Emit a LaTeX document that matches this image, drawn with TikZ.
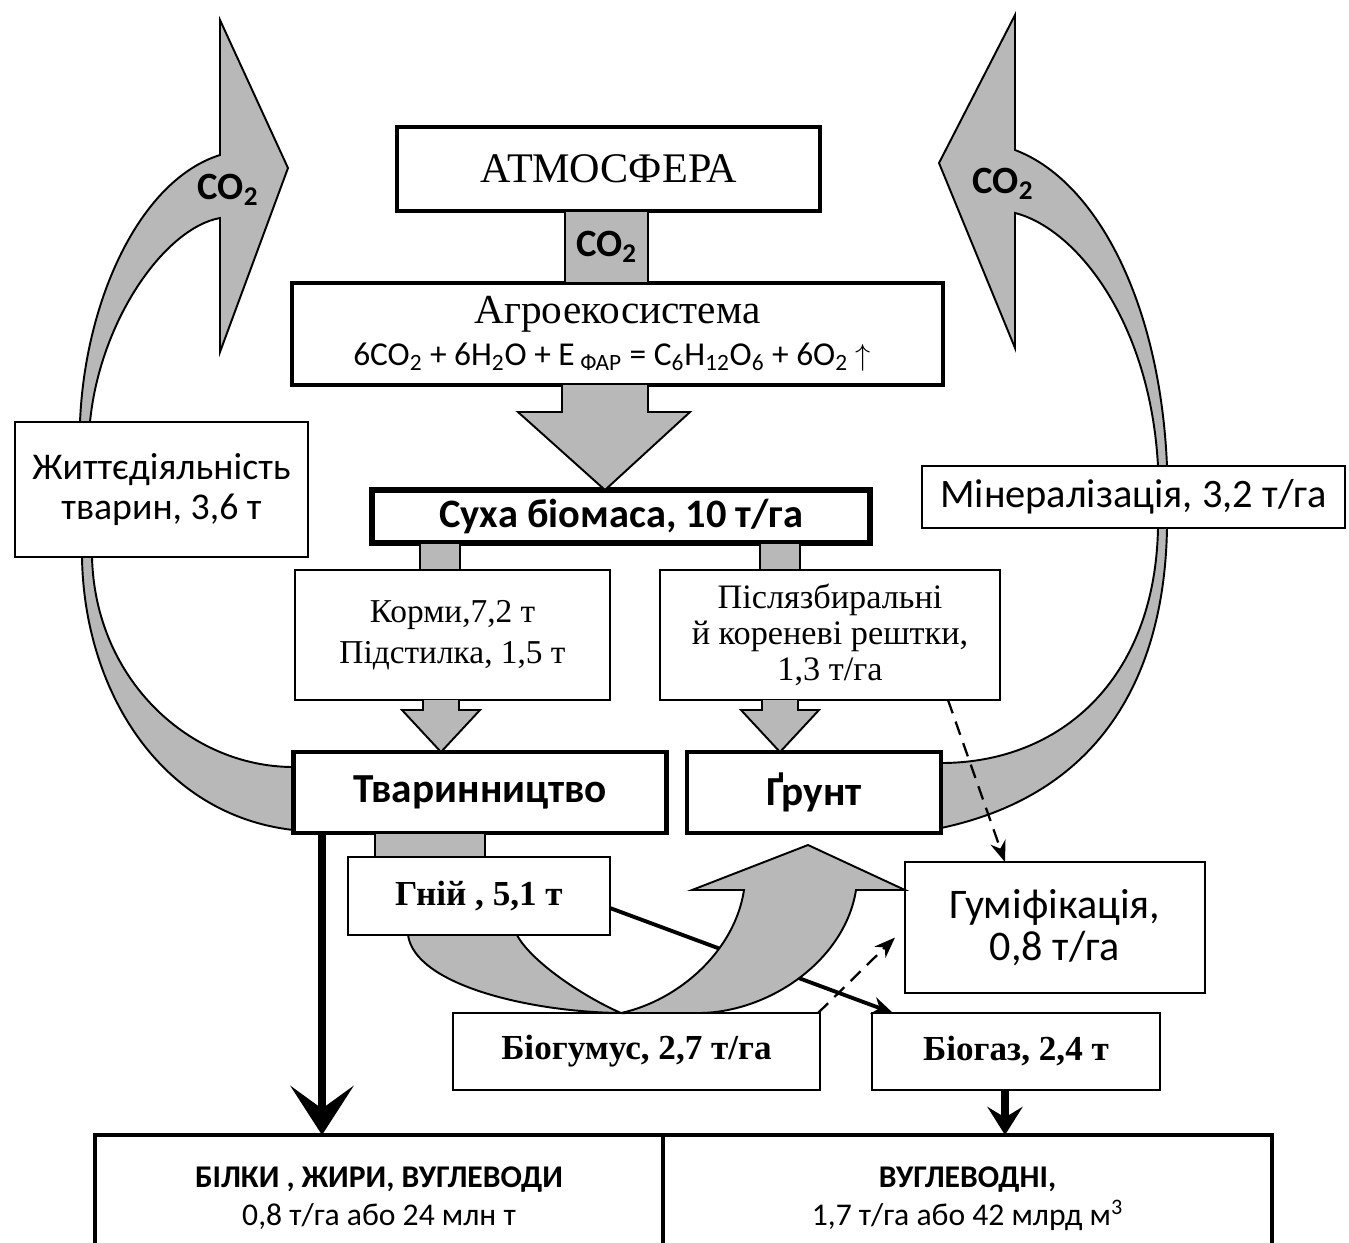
\documentclass[tikz,border=0pt]{standalone}
\usepackage{fontspec}
\setmainfont{Liberation Serif}
\setsansfont{Carlito}
\usetikzlibrary{arrows.meta, calc, backgrounds}

\begin{document}
\begin{tikzpicture}[x=0.02cm, y=-0.02cm,
    sz/.style 2 args={minimum width=#1*0.02cm, minimum height=#2*0.02cm},
    box/.style={draw, fill=white, inner sep=0pt, outer sep=0pt, line width=1.1pt, align=center},
    thickbox/.style={box, line width=2.4pt},
    grey/.style={draw, fill=black!28, line width=1.1pt, line join=miter},
    darrow/.style={line width=4pt, -{Stealth[length=28pt, width=36pt, inset=13pt]}}]

    \useasboundingbox (0,0) rectangle (1349,1242);
    \clip (0,0) rectangle (1349,1242);

    % boxes
    \node[thickbox, sz={423}{84}, font=\fontsize{24}{28}\selectfont] (atm) at (608.5,169) {АТМОСФЕРА};
    \node[thickbox, sz={651}{102}] (agro) at (617.5,334) {};
    \node[font=\fontsize{23.5}{26}\selectfont] (agrot) at (617.5,314) {Агроекосистема};
    \node[font=\sffamily\fontsize{19}{22}\selectfont] (eq) at (612,357)
        {6CO\textsubscript{2} + 6H\textsubscript{2}O + E\,\textsubscript{ФАР} = C\textsubscript{6}H\textsubscript{12}O\textsubscript{6} + 6O\textsubscript{2} $\uparrow$};
    \node[box, line width=3.4pt, sz={498}{53}, font=\sffamily\bfseries\fontsize{23}{26}\selectfont] (bio) at (621,516.5) {Суха біомаса, 10 т/га};
    \node[box, sz={315}{130}, font=\fontsize{19}{23.5}\selectfont] (korm) at (452.5,635) {Корми,7,2 т\\Підстилка, 1,5 т};
    \node[box, sz={340}{130}, font=\fontsize{19.5}{20.5}\selectfont] (resh) at (830,635) {Післязбиральні\\й кореневі рештки,\\1,3 т/га};
    \node[thickbox, line width=2.8pt, sz={373}{81}, font=\sffamily\bfseries\fontsize{23.5}{26}\selectfont] (tvar) at (480,792.5) {Тваринництво};
    \node[thickbox, line width=2.8pt, sz={254}{81}, font=\sffamily\bfseries\fontsize{23.5}{26}\selectfont] (grunt) at (814,792.5) {Ґрунт};
    \node[box, sz={293}{135}, font=\sffamily\fontsize{21.5}{22.5}\selectfont] (zhyt) at (161.5,489.5) {Життєдіяльність\\тварин, 3,6 т};
    \node[box, sz={423}{62}, font=\sffamily\fontsize{23}{26}\selectfont] (miner) at (1133.5,497) {Мінералізація, 3,2 т/га};
    \node[box, sz={262}{78}, font=\bfseries\fontsize{20}{22}\selectfont] (hnii) at (479,896) {Гній , 5,1 т};
    \node[box, sz={300}{131}, font=\sffamily\fontsize{24}{24}\selectfont] (humif) at (1055,927.5) {Гуміфікація,\\0,8 т/га};
    \node[box, sz={367}{77}, font=\bfseries\fontsize{20}{22}\selectfont] (biohum) at (636.5,1051.5) {Біогумус, 2,7 т/га};
    \node[box, sz={288}{77}, font=\bfseries\fontsize{20}{22}\selectfont] (biogas) at (1016,1051.5) {Біогаз, 2,4 т};
    \node[thickbox, sz={568}{127}, anchor=north west, font=\sffamily\fontsize{18}{21.5}\selectfont] (prot) at (95,1135)
        {\textbf{БІЛКИ , ЖИРИ, ВУГЛЕВОДИ}\\0,8 т/га або 24 млн т};
    \node[thickbox, sz={609}{127}, anchor=north west, font=\sffamily\fontsize{18}{21.5}\selectfont] (vugl) at (663,1135)
        {\textbf{ВУГЛЕВОДНІ,}\\1,7 т/га або 42 млрд м\textsuperscript{3}};

    % big CO2 arcs
    \begin{scope}[on background layer]
        \fill[white] (0,0) rectangle (1349,1242);
        \draw[grey] (tvar.west |- 0,767) .. controls (190,767) and (95,680) .. (92,557) -- (90,422)
            .. controls (100,320) and (165,228) .. (220,218) -- (220,352) -- (288,168) -- (220,20) -- (220,155)
            .. controls (140,180) and (85,300) .. (80,422) -- (82,557)
            .. controls (84,690) and (160,815) .. (tvar.west |- 0,830) -- cycle;
        \draw[grey] (grunt.east |- 0,763) .. controls (1060,763) and (1155,680) .. (1158,528) -- (1158,466)
            .. controls (1150,320) and (1075,228) .. (1015,213) -- (1015,348) -- (939,163) -- (1015,15) -- (1015,150)
            .. controls (1095,180) and (1160,300) .. (1167,466) -- (1167,528)
            .. controls (1165,650) and (1120,790) .. (grunt.east |- 0,828) -- cycle;
    \end{scope}
    \node[font=\sffamily\bfseries\fontsize{22}{24}\selectfont] (co2l) at (228,190) {CO\textsubscript{2}};
    \node[font=\sffamily\bfseries\fontsize{22}{24}\selectfont] (co2r) at (1003,184) {CO\textsubscript{2}};

    % flows between boxes
    \draw[grey, line width=1.6pt] (565,0 |- atm.south) rectangle (648,0 |- agro.north);
    \node[font=\sffamily\bfseries\fontsize{22}{24}\selectfont] (co2m) at (606.5,247) {CO\textsubscript{2}};
    \draw[grey] (562,0 |- agro.south) -- (562,412) -- (518,412) -- (605,0 |- bio.north) -- (690,412) -- (648,412) -- (648,0 |- agro.south);
    \draw[grey] (420,0 |- bio.south) rectangle (460,0 |- korm.north);
    \draw[grey] (760,0 |- bio.south) rectangle (800,0 |- resh.north);
    \draw[grey] (423,0 |- korm.south) -- (423,710) -- (402,710) -- (441,0 |- tvar.north) -- (480,710) -- (459,710) -- (459,0 |- korm.south);
    \draw[grey] (762,0 |- resh.south) -- (762,710) -- (741,710) -- (780,0 |- grunt.north) -- (819,710) -- (798,710) -- (798,0 |- resh.south);
    \draw[grey] (375,0 |- tvar.south) rectangle (485,0 |- hnii.north);

    \draw[darrow] (322,0 |- tvar.south) -- (322,0 |- prot.north);
    \draw[line width=4pt, -{Stealth[length=16pt, width=20pt, inset=6pt]}] (1005,0 |- biogas.south) -- (1005,0 |- vugl.north);
    \draw[line width=2.2pt, -{Stealth[length=12pt, width=10pt]}] (hnii.east |- 0,908) -- (893,0 |- biogas.north);
    \draw[line width=1.3pt, dash pattern=on 8pt off 5pt, -{Stealth[length=12pt, width=9pt]}] (948,0 |- resh.south) -- (1005,0 |- humif.north);
    \draw[line width=1.3pt, dash pattern=on 8pt off 5pt, -{Stealth[length=12pt, width=9pt]}] (818,0 |- biohum.north) -- ($(humif.west)+(-10,10)$);

    % U-turn arrow
    \draw[grey] (408,0 |- hnii.south) .. controls (415,985) and (530,1012) .. (621,0 |- biohum.north)
        .. controls (580,995) and (530,960) .. (517,0 |- hnii.south) -- cycle;
    \draw[grey] (621,0 |- biohum.north) .. controls (680,1000) and (735,950) .. (744,890) -- (692,890) -- (808,845)
        -- (905,890) -- (856,890) .. controls (845,960) and (770,1012) .. (700,0 |- biohum.north) -- cycle;

\end{tikzpicture}
\end{document}
